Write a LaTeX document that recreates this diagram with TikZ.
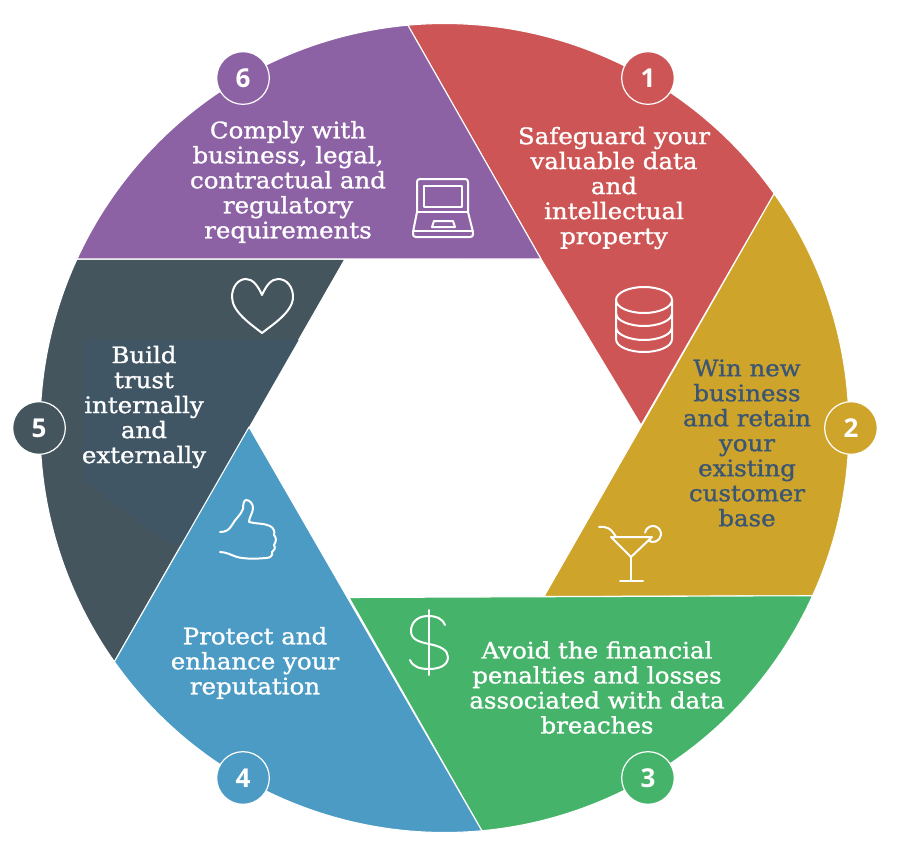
\documentclass[tikz,border=0pt]{standalone}
\usepackage{fontspec}
\setmainfont[FakeStretch=1.08,FakeBold=1.2]{DejaVu Serif}
\newfontfamily\numfont{Open Sans}
\definecolor{cred}{HTML}{CE5555}
\definecolor{cgold}{HTML}{CFA42B}
\definecolor{cgreen}{HTML}{45B46A}
\definecolor{cblue}{HTML}{4B9BC4}
\definecolor{cdark}{HTML}{44555E}
\definecolor{cpatch}{HTML}{415665}
\definecolor{cpurple}{HTML}{8D62A5}
\definecolor{cnavy}{HTML}{3B5673}
\tikzset{
  seg/.style={draw=white,line width=0.8pt,line join=round},
  badge/.style={circle,draw=white,line width=0.9pt,minimum size=39.5pt,inner sep=0pt,text=white,font=\numfont\bfseries\fontsize{19.5}{20}\selectfont},
  label/.style={align=center,inner sep=0pt,text=white,font=\fontsize{17}{18.75}\selectfont},
  icon/.style={draw=white,line width=1.5pt,line join=round,line cap=round}
}
\begin{document}
\begin{tikzpicture}[x=.75pt,y=.75pt,yscale=-1]
\useasboundingbox (0,0) rectangle (904,853);
\coordinate (o) at (444.5,428);
\def\R{404.5}
\path (o) ++(-95.2:\R) coordinate (p1);
\path (o) ++(-35.4:\R) coordinate (p2);
\path (o) ++(24.5:\R) coordinate (p3);
\path (o) ++(84.7:\R) coordinate (p4);
\path (o) ++(144.7:\R) coordinate (p5);
\path (o) ++(204.7:\R) coordinate (p6);
% segments
\path[seg,fill=cred] (p1) arc (-95.2:-35.4:\R) -- (641,425) -- (541,259) -- cycle;
\path[seg,fill=cgold] (p2) arc (-35.4:24.5:\R) -- (544,596.5) -- cycle;
\path[seg,fill=cgreen] (p3) arc (24.5:84.7:\R) -- (349,597.5) -- cycle;
\path[seg,fill=cdark] (p5) arc (144.7:204.7:\R) -- (345,259) -- cycle;
\begin{scope}
\clip (p5) arc (144.7:204.7:\R) -- (345,259) -- cycle;
\fill[cpatch] (83,340) -- (310,340) -- (310,545) -- (170,545) -- (83,480) -- cycle;
\end{scope}
\path[seg,fill=cblue] (p4) arc (84.7:144.7:\R) -- (249,427) -- cycle;
\path[seg,fill=cpurple] (p6) arc (204.7:264.8:\R) -- (541,259) -- cycle;
% badges
\node[badge,fill=cred] (b1) at (648,78) {1};
\node[badge,fill=cgold] (b2) at (851,428) {2};
\node[badge,fill=cgreen] (b3) at (648,778) {3};
\node[badge,fill=cblue] (b4) at (243,778) {4};
\node[badge,fill=cdark] (b5) at (39,428) {5};
\node[badge,fill=cpurple] (b6) at (243,78) {6};
% texts
\node[label] (t1) at (614,188) {Safeguard your\\valuable data\\and\\intellectual\\property};
\node[label,text=cnavy] (t2) at (747,443) {Win new\\business\\and retain\\your\\existing\\customer\\base};
\node[label] (t3) at (597,687.5) {Avoid the financial\\penalties and losses\\associated with data\\breaches};
\node[label] (t4) at (255,663) {Protect and\\enhance your\\reputation};
\node[label] (t5) at (144,407) {Build\\trust\\internally\\and\\externally};
\node[label] (t6) at (288,182) {Comply with\\business, legal,\\contractual and\\regulatory\\requirements};
% laptop
\draw[icon,rounded corners=2pt] (417,212) -- (417,179) -- (468,179) -- (468,212);
\draw[icon] (424,186) rectangle (462,207);
\draw[icon] (417,212) -- (468,212);
\draw[icon,rounded corners=2pt] (417,212) -- (413,232) -- (413,237) -- (473,237) -- (473,232) -- (468,212);
\draw[icon] (413,231) -- (473,231);
\draw[icon] (432,227) -- (434,221) -- (453,221) -- (455,227) -- cycle;
% database
\draw[icon] (644,300) ellipse [x radius=28,y radius=13];
\draw[icon] (616,300) -- (616,339) .. controls (616,347) and (630,352) .. (644,352) .. controls (658,352) and (672,347) .. (672,339) -- (672,300);
\draw[icon] (616,313) .. controls (616,321) and (630,326) .. (644,326) .. controls (658,326) and (672,321) .. (672,313);
\draw[icon] (616,327) .. controls (616,335) and (630,340) .. (644,340) .. controls (658,340) and (672,335) .. (672,327);
% cocktail
\draw[icon] (611,537) -- (652,537) -- (631,557) -- cycle;
\draw[icon] (631,557) -- (631,581);
\draw[icon] (620,581) -- (643,581);
\draw[icon] (599,527) .. controls (606,526) and (611,528) .. (616,537);
\draw[icon] (645.1,532.6) arc (-170:125:8);
% dollar
\draw[icon] (429,610) -- (429,675);
\draw[icon] (445,625) .. controls (442,618) and (436,616) .. (428,616) .. controls (417,616) and (411,623) .. (411,631) .. controls (411,640) and (420,642) .. (429,644) .. controls (440,646) and (448,650) .. (448,657) .. controls (448,665) and (440,669) .. (429,669) .. controls (420,669) and (413,667) .. (410,660);
% thumb
\draw[icon] (220,532) .. controls (226,532) and (229,530) .. (232,525) .. controls (235,519) and (241,515) .. (243,509) .. controls (243,504) and (244,500) .. (246,500) .. controls (250,500) and (253,504) .. (253,508) .. controls (253,513) and (249,517) .. (249,522) .. controls (256,524) and (264,523) .. (270,526) .. controls (274,528) and (275,532) .. (274,535) .. controls (277,538) and (276,542) .. (274,545) .. controls (276,548) and (274,551) .. (272,552) .. controls (273,556) and (270,558) .. (266,558) .. controls (255,559) and (245,559) .. (237,557) .. controls (231,555) and (226,552) .. (220,552);
% heart
\draw[icon] (262,295) .. controls (258,286) and (253,279) .. (246,279) .. controls (238,279) and (232,287) .. (232,297) .. controls (232,312) and (252,325) .. (262,333) .. controls (272,325) and (293,312) .. (293,297) .. controls (293,287) and (287,279) .. (278,279) .. controls (271,279) and (266,286) .. (262,295) -- cycle;
\end{tikzpicture}
\end{document}
